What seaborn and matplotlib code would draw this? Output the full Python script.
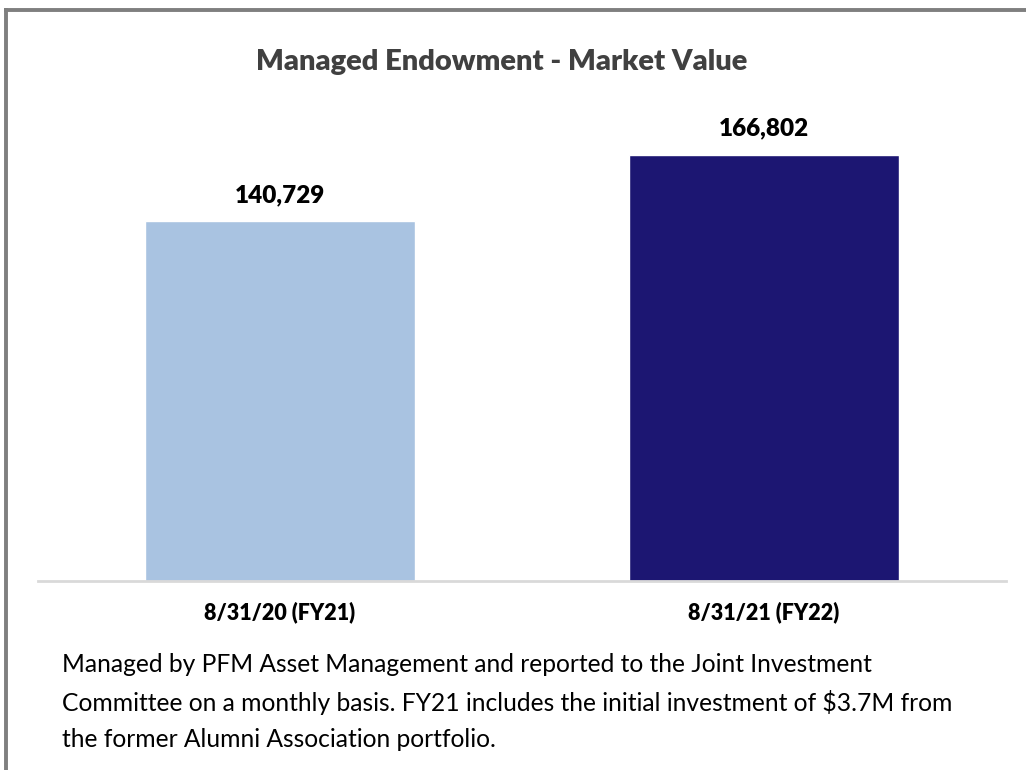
import matplotlib
matplotlib.use("Agg")
import matplotlib.pyplot as plt
import seaborn as sns
import pandas as pd

## chart data
categories = ["8/31/20 (FY21)", "8/31/21 (FY22)"]
values = [140729, 166802]
bar_colors = ["#A9C3E1", "#1C1672"]
title = "Managed Endowment - Market Value"
note = ("Managed by PFM Asset Management and reported to the Joint Investment\n"
        "Committee on a monthly basis. FY21 includes the initial investment of $3.7M from\n"
        "the former Alumni Association portfolio.")

df = pd.DataFrame({"Date": categories, "Value": values})

sns.set_theme(style="white")
plt.rcParams["font.family"] = ["Lato", "DejaVu Sans"]

fig = plt.figure(figsize=(10.26, 7.7), dpi=100)
ax = fig.add_axes([0.037, 0.2455, 0.9435, 0.6245])

sns.barplot(data=df, x="Date", y="Value", hue="Date", palette=bar_colors,
            width=0.557, legend=False, ax=ax, saturation=1)

ax.set_xlim(-0.5, 1.5)
ax.set_ylim(0, 188200)
ax.set_xlabel("")
ax.set_ylabel("")
ax.set_yticks([])
for side in ["top", "right", "left"]:
    ax.spines[side].set_visible(False)
ax.spines["bottom"].set_color("#D9D9D9")
ax.spines["bottom"].set_linewidth(2)
ax.tick_params(axis="x", length=0, pad=15)
for lbl in ax.get_xticklabels():
    lbl.set_fontweight("heavy")
    lbl.set_fontsize(15.5)
    lbl.set_color("black")

## value labels
for i, v in enumerate(values):
    ax.annotate(f"{v:,}", (i, v), xytext=(0, 11), textcoords="offset points",
                ha="center", va="bottom", fontsize=17.5, fontweight="heavy", color="black")

fig.text(0.489, 0.919, title, ha="center", va="center", fontsize=21,
         fontweight="heavy", color="#404040")

fig.text(0.060, 0.088, note, ha="left", va="center", fontsize=17.75,
         color="black", linespacing=1.68)

## frame around the figure (left and top edges)
fig.add_artist(plt.Line2D([0.0063, 0.0063], [0.0, 0.9875], color="#7F7F7F", lw=2.8,
                          transform=fig.transFigure, solid_capstyle="projecting"))
fig.add_artist(plt.Line2D([0.0063, 1.0], [0.9875, 0.9875], color="#7F7F7F", lw=2.8,
                          transform=fig.transFigure, solid_capstyle="projecting"))

fig.savefig("out.png", dpi=100, facecolor="white")
